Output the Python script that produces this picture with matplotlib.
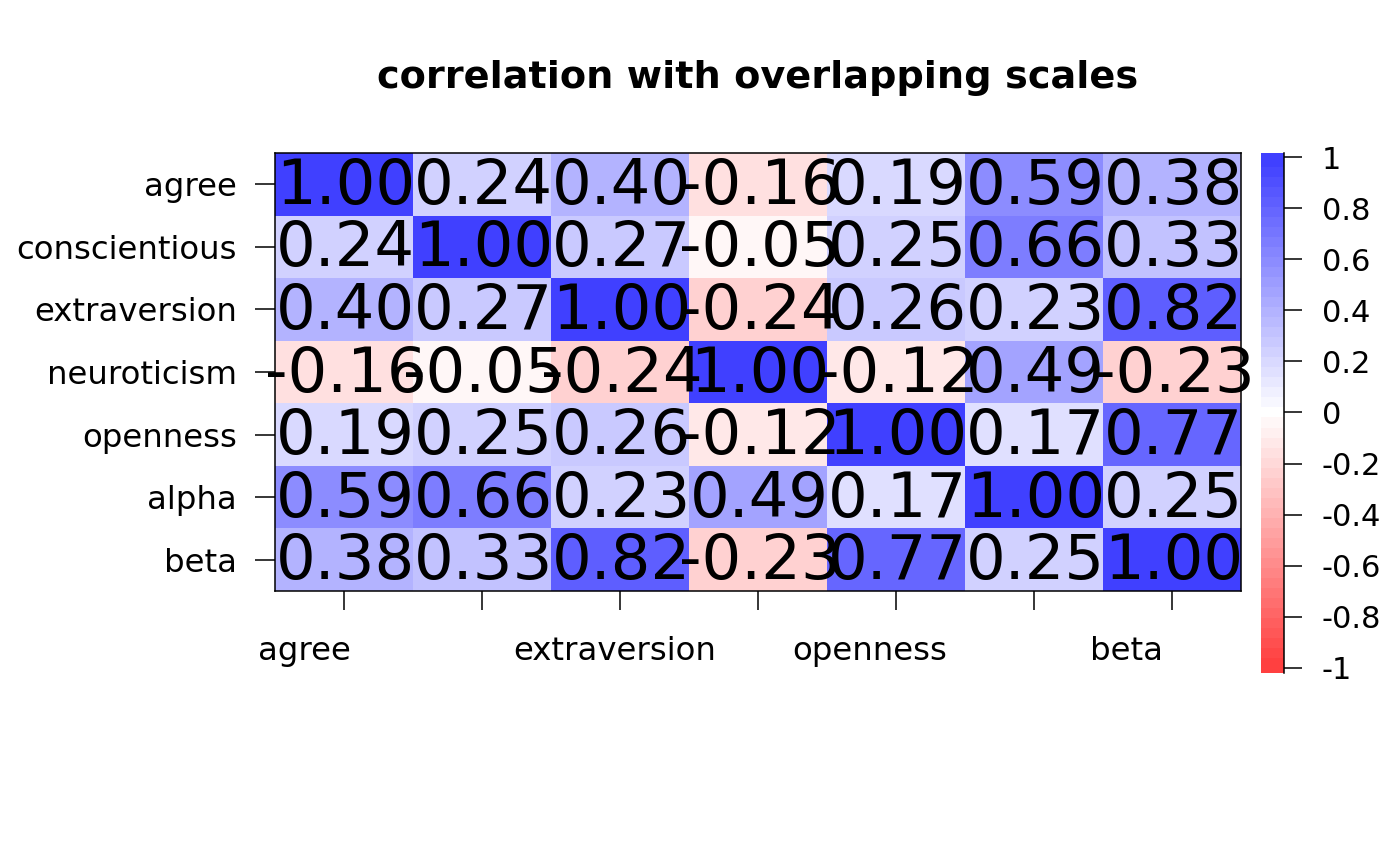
import numpy as np
import matplotlib
matplotlib.use('Agg')
import matplotlib.pyplot as plt
from matplotlib.colors import ListedColormap, BoundaryNorm

# variable names and correlation values
names = ['agree', 'conscientious', 'extraversion', 'neuroticism',
         'openness', 'alpha', 'beta']
# R dropped every other x label (overlap) and placed them a bit left
xlabels_shown = ['agree', 'extraversion', 'openness', 'beta']
xlabel_pos = [-0.29, 1.96, 3.81, 5.67]

row_agree = [1.00, 0.24, 0.40, -0.16, 0.19, 0.59, 0.38]
row_consc = [0.24, 1.00, 0.27, -0.05, 0.25, 0.66, 0.33]
row_extra = [0.40, 0.27, 1.00, -0.24, 0.26, 0.23, 0.82]
row_neuro = [-0.16, -0.05, -0.24, 1.00, -0.12, 0.49, -0.23]
row_open = [0.19, 0.25, 0.26, -0.12, 1.00, 0.17, 0.77]
row_alpha = [0.59, 0.66, 0.23, 0.49, 0.17, 1.00, 0.25]
row_beta = [0.38, 0.33, 0.82, -0.23, 0.77, 0.25, 1.00]

r = np.array([row_agree, row_consc, row_extra, row_neuro,
              row_open, row_alpha, row_beta])

# red - white - blue ramp with 51 steps, alpha .75 over white
n_col = 51
t = np.linspace(0, 1, n_col)
cols = []
for v in t:
    if v < 0.5:
        c = np.array([1.0, 2 * v, 2 * v])
    else:
        c = np.array([2 * (1 - v), 2 * (1 - v), 1.0])
    c = 0.75 * c + 0.25
    cols.append(c)
cmap = ListedColormap(cols)
norm = BoundaryNorm(np.linspace(-1, 1, n_col + 1), n_col)

W, H = 1400, 866
fig = plt.figure(figsize=(W / 100, H / 100), dpi=100)
fig.patch.set_facecolor('white')

ax = fig.add_axes([275 / W, (H - 591) / H, 966 / W, 438 / H])
ax.pcolormesh(np.arange(8) - 0.5, np.arange(8) - 0.5, r, cmap=cmap, norm=norm)
ax.set_xlim(-0.5, 6.5)
ax.set_ylim(6.5, -0.5)

for i in range(7):
    for j in range(7):
        ax.text(j + 0.01, i + 0.04, '%.2f' % r[i, j], ha='center', va='center',
                fontsize=45, color='black', clip_on=False)

ax.set_yticks(range(7))
ax.set_yticklabels(names, fontsize=23.3)
ax.set_xticks(range(7))
ax.set_xticklabels([''] * 7)
for lab, xp in zip(xlabels_shown, xlabel_pos):
    ax.text(xp, 7.47, lab, ha='center', va='center', fontsize=23.3,
            clip_on=False)
ax.tick_params(axis='y', length=14.5, width=1.1, pad=13)
ax.tick_params(axis='x', length=14, width=1.1)
for s in ax.spines.values():
    s.set_linewidth(1.1)

ax.set_title('correlation with overlapping scales', fontsize=27.5,
             fontweight='bold', pad=47)

# colour legend (the strip runs a little past -1 and 1)
cax = fig.add_axes([1261 / W, (H - 673) / H, 23 / W, 520 / H])
bounds = np.linspace(-1, 1, n_col + 1)
mids = (bounds[:-1] + bounds[1:]) / 2
edges = bounds.copy()
edges[0], edges[-1] = -1.02, 1.016
cax.pcolormesh([0, 1], edges, mids[:, None], cmap=cmap, norm=norm)
cax.set_xlim(0, 1)
cax.set_ylim(-1.02, 1.016)
cax.set_xticks([])
cbt = np.round(np.arange(-1, 1.01, 0.2), 1)
cax.set_yticks(cbt)
cax.set_yticklabels(['%g' % v if v != 0 else '0' for v in cbt], fontsize=22)
cax.yaxis.tick_right()
cax.tick_params(axis='y', length=13, width=1.1, pad=14)
for s in cax.spines.values():
    s.set_visible(False)
cax.spines['right'].set_visible(True)
cax.spines['right'].set_linewidth(1.1)

fig.savefig('out.png', dpi=100)
